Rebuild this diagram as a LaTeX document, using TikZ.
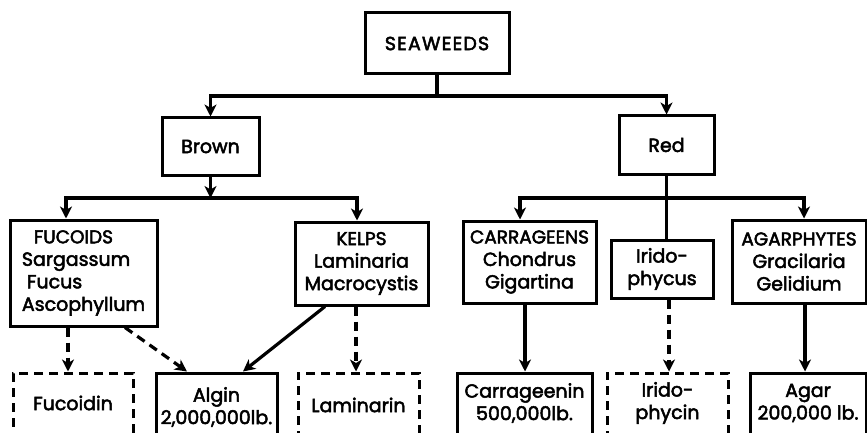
\documentclass[tikz,border=0pt]{standalone}
\usepackage{fontspec}
\newfontfamily\labfont{Poppins}[FakeBold=2.6]
\usetikzlibrary{arrows.meta}
\newcommand\capsz{\fontsize{18.5}{22}\selectfont}
\begin{document}
\begin{tikzpicture}[x=1pt,y=-1pt,
  box/.style={draw, line width=3pt, inner sep=0pt, align=center,
    font=\labfont\fontsize{19}{22.5}\selectfont},
  dbox/.style={box, dash pattern=on 9pt off 6pt},
  txt/.style={inner sep=0pt, align=center, font=\labfont\fontsize{19}{22.5}\selectfont},
  conn/.style={line width=3.2pt},
  arr/.style={conn, -{Stealth[length=12pt,width=12pt,inset=3.5pt]}},
  darr/.style={arr, dash pattern=on 9pt off 6pt}]
\useasboundingbox (0,0) rectangle (867,433);
\clip (0,0) rectangle (867,433);

% top levels
\node[box, minimum width=144, minimum height=61] (sea) at (437,43.5)
  {\fontsize{19}{22}\selectfont\addfontfeatures{LetterSpace=6}SEAWEEDS};
\node[box, minimum width=97, minimum height=57] (brown) at (210.5,146.5) {Brown};
\node[box, minimum width=95, minimum height=58] (red) at (666.5,145) {Red};

% groups
\node[box, minimum width=147, minimum height=106, align=left] (fuc) at (83.5,273)
  {\hbox{\hspace{12pt}\capsz FUCOIDS}\\Sargassum\\\hbox{\hspace{5pt}Fucus}\\Ascophyllum};
\node[box, minimum width=133, minimum height=83] (kelps) at (361.5,263.5)
  {{\capsz KELPS}\\Laminaria\\Macrocystis};
\node[box, minimum width=133, minimum height=82] (carr) at (529.5,262)
  {{\capsz CARRAGEENS}\\Chondrus\\Gigartina};
\node[box, minimum width=102, minimum height=58] (irido) at (662,269)
  {Irido-\\phycus};
\node[box, minimum width=134, minimum height=83] (agar) at (799,261.5)
  {{\capsz AGARPHYTES}\\Gracilaria\\Gelidium};

% products
\node[dbox, minimum width=120, minimum height=90] (fucoidin) at (73,418) {};
\node[txt] (fucoidinT) at (73,403) {Fucoidin};
\node[box, minimum width=121, minimum height=90] (algin) at (216.5,418) {};
\node[txt] (alginT) at (216.5,407) {Algin\\2,000,000lb.};
\node[dbox, minimum width=121, minimum height=90] (laminarin) at (358.5,418) {};
\node[txt] (laminarinT) at (358.5,405) {Laminarin};
\node[box, minimum width=135, minimum height=90] (carrageenin) at (524.5,418) {};
\node[txt] (carrageeninT) at (524.5,403) {Carrageenin\\500,000lb.};
\node[dbox, minimum width=121, minimum height=90] (iridophycin) at (667.5,418) {};
\node[txt] (iridophycinT) at (667.5,403) {Irido-\\phycin};
\node[box, minimum width=116, minimum height=90] (agarprod) at (808,418) {};
\node[txt] (agarprodT) at (808,403) {Agar\\200,000 lb.};

% connectors
\coordinate (j1) at (437,96);
\draw[conn] (sea.south) -- (j1);
\draw[arr] (j1) -| (brown.north);
\draw[arr] (j1) -| (red.north);

\coordinate (j2) at (210.5,198);
\draw[arr] (brown.south) -- (j2);
\draw[arr] (j2) -| ([xshift=-17.5pt]fuc.north);
\draw[arr] (j2) -| ([xshift=-4.5pt]kelps.north);

\coordinate (j3) at (666.5,198);
\draw[conn] (red.south) -- (red.south |- irido.north);
\draw[arr] (j3) -| ([xshift=-9.5pt]carr.north);
\draw[arr] (j3) -| ([xshift=5pt]agar.north);

\draw[darr] ([xshift=-15.5pt]fuc.south) -- ([xshift=-5pt]fucoidin.north);
\draw[darr] ([xshift=41.5pt]fuc.south) -- ([xshift=-29.5pt]algin.north);
\draw[arr] ([xshift=-36.5pt]kelps.south) -- ([xshift=26.5pt]algin.north);
\draw[darr] ([xshift=-5.5pt]kelps.south) -- ([xshift=-2.5pt]laminarin.north);
\draw[arr] ([xshift=-4.5pt]carr.south) -- ([xshift=0.5pt]carrageenin.north);
\draw[darr] ([xshift=7pt]irido.south) -- ([xshift=1.5pt]iridophycin.north);
\draw[arr] ([xshift=6pt]agar.south) -- ([xshift=-3pt]agarprod.north);
\end{tikzpicture}
\end{document}
